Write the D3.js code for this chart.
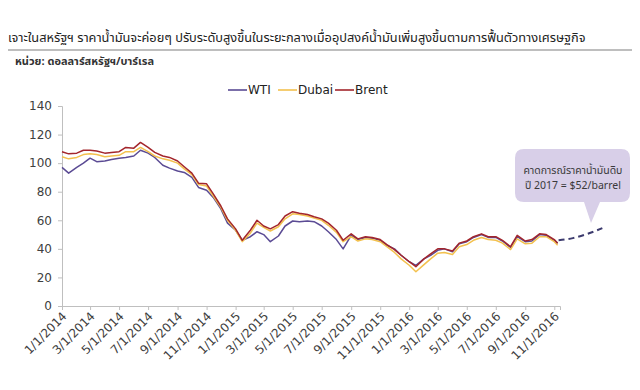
<!DOCTYPE html>
<html>
<head>
<meta charset="utf-8">
<script src="https://cdn.jsdelivr.net/npm/d3@7"></script>
<style>
  body { margin: 0; background: #fff; }
  svg text { font-family: Tahoma, "Noto Sans Thai", "Noto Sans", "DejaVu Sans", sans-serif; }
</style>
</head>
<body>
<script>
var titleText = "เจาะในสหรัฐฯ ราคาน้ำมันจะค่อยๆ ปรับระดับสูงขึ้นในระยะกลางเมื่ออุปสงค์น้ำมันเพิ่มสูงขึ้นตามการฟื้นตัวทางเศรษฐกิจ"
var unitText = "หน่วย: ดอลลาร์สหรัฐฯ/บาร์เรล"
var calloutLines = ["คาดการณ์ราคาน้ำมันดิบ", "ปี 2017 = $52/barrel"]

var seriesNames = ["WTI", "Dubai", "Brent"]
var yTicks = [0, 20, 40, 60, 80, 100, 120, 140]
var xTickLabels = ["1/1/2014", "3/1/2014", "5/1/2014", "7/1/2014", "9/1/2014", "11/1/2014",
  "1/1/2015", "3/1/2015", "5/1/2015", "7/1/2015", "9/1/2015", "11/1/2015",
  "1/1/2016", "3/1/2016", "5/1/2016", "7/1/2016", "9/1/2016", "11/1/2016"]

var dates = [
  "2014-01-01", "2014-01-15", "2014-02-01", "2014-02-15", "2014-03-01", "2014-03-15",
  "2014-04-01", "2014-04-15", "2014-05-01", "2014-05-15", "2014-06-01", "2014-06-15",
  "2014-07-01", "2014-07-15", "2014-08-01", "2014-08-15", "2014-09-01", "2014-09-15",
  "2014-10-01", "2014-10-15", "2014-11-01", "2014-11-15", "2014-12-01", "2014-12-15",
  "2015-01-01", "2015-01-15", "2015-02-01", "2015-02-15", "2015-03-01", "2015-03-15",
  "2015-04-01", "2015-04-15", "2015-05-01", "2015-05-15", "2015-06-01", "2015-06-15",
  "2015-07-01", "2015-07-15", "2015-08-01", "2015-08-15", "2015-09-01", "2015-09-15",
  "2015-10-01", "2015-10-15", "2015-11-01", "2015-11-15", "2015-12-01", "2015-12-15",
  "2016-01-01", "2016-01-15", "2016-02-01", "2016-02-15", "2016-03-01", "2016-03-15",
  "2016-04-01", "2016-04-15", "2016-05-01", "2016-05-15", "2016-06-01", "2016-06-15",
  "2016-07-01", "2016-07-15", "2016-08-01", "2016-08-15", "2016-09-01", "2016-09-15",
  "2016-10-01", "2016-10-15", "2016-11-01", "2016-11-08"]

var wti = [
  97, 93, 97, 100, 103.5, 101, 101.5, 102.5, 103.5, 104, 105, 109,
  107, 104, 98.5, 96.5, 94.5, 93.5, 90, 83, 81, 76, 68, 58,
  53, 46, 48.5, 52, 50, 45, 49, 56, 59.5, 59, 59.5, 59,
  56, 52, 46.5, 40, 49.5, 46.5, 48, 47.5, 46, 42.5, 40, 35.5,
  31, 28.5, 33, 35.5, 39, 40, 38, 43.5, 45, 48, 50, 48,
  48, 45.5, 41, 48.5, 45, 45.5, 50, 49.5, 46, 44]

var dubai = [
  104.5, 103, 104, 106, 106.5, 106, 104.5, 105, 105.5, 108, 108, 111,
  108, 105, 103, 102, 100, 96, 92, 85, 84, 77, 69, 60,
  53, 45, 51, 58, 55, 52.5, 55.5, 61, 64.5, 64, 63, 61.5,
  60, 56.5, 51.5, 45, 48.5, 45.5, 47, 46.5, 45, 41.5, 37.5, 33,
  28.5, 24, 29, 33, 37, 37.5, 36, 41.5, 43, 46, 48, 46.5,
  46, 44, 39.5, 47, 43.5, 44, 48.5, 48.5, 45, 42.5]

var brent = [
  108, 106.5, 107, 109, 109, 108.5, 107, 107.5, 108, 111, 110.5, 114.5,
  111, 107.5, 105, 104, 101.5, 97.5, 93, 86, 85.5, 78.5, 70, 61,
  54, 46, 53, 60, 56, 54, 57, 63, 66, 65, 64, 62.5,
  61, 58, 53, 46, 50.5, 47, 48.5, 48, 46.5, 43, 39.5, 35.5,
  31, 27.5, 33, 36.5, 40, 40, 38.5, 44, 45.5, 48.5, 50.5, 48.5,
  48.5, 46, 41.5, 49.5, 45.5, 46.5, 50.5, 50, 46.5, 44]

var forecastDates = ["2016-11-10", "2016-12-10", "2017-01-10", "2017-02-10"]
var forecastValues = [46, 47.5, 50.5, 54.5]

var colors = { WTI: "#5b4b94", Dubai: "#f3c14e", Brent: "#a3262c" }

var w = 640
var h = 390
var plotLeft = 62, plotRight = 560, plotTop = 106, plotBottom = 306

var svg = d3.select("body").append("svg")
  .attr("width", w)
  .attr("height", h)

var parseIso = d3.timeParse("%Y-%m-%d")
var parseTick = d3.timeParse("%m/%d/%Y")

var x = d3.scaleTime()
  .domain([parseIso("2014-01-01"), parseIso("2016-11-13")])
  .range([plotLeft, plotRight])

var y = d3.scaleLinear()
  .domain([0, 140])
  .range([plotBottom, plotTop])

// title, rule and unit
var title = svg.append("text")
  .attr("x", 8).attr("y", 42)
  .attr("font-size", 14).attr("fill", "#222")
  .text(titleText)
// shrink the title to the width it takes in the original
var tw = title.node().getComputedTextLength()
if (tw > 578) title.attr("font-size", 14 * 578 / tw)

svg.append("line")
  .attr("x1", 8).attr("x2", 632)
  .attr("y1", 50).attr("y2", 50)
  .attr("stroke", "#7f7f7f").attr("stroke-width", 1.2)

svg.append("text")
  .attr("x", 15).attr("y", 65)
  .attr("font-size", 11).attr("font-weight", "bold").attr("fill", "#333")
  .text(unitText)

// y axis
var yAxis = svg.append("g")
  .attr("transform", "translate(" + plotLeft + ",0)")
  .call(d3.axisLeft(y).tickValues(yTicks).tickSize(4).tickPadding(6))
yAxis.selectAll("path, line").attr("stroke", "#bfbfbf")
yAxis.selectAll("text").attr("font-size", 12).attr("fill", "#404040")
  .style("font-family", "Tahoma, 'DejaVu Sans', sans-serif")

// x axis
var xAxis = svg.append("g")
  .attr("transform", "translate(0," + plotBottom + ")")
  .call(d3.axisBottom(x)
    .tickValues(xTickLabels.map(parseTick))
    .tickFormat(function (d, i) { return xTickLabels[i] })
    .tickSize(4))
xAxis.select(".domain").attr("stroke", "#bfbfbf")
xAxis.selectAll("line").attr("stroke", "#bfbfbf")
xAxis.selectAll("text")
  .attr("font-size", 12).attr("fill", "#404040")
  .style("font-family", "Tahoma, 'DejaVu Sans', sans-serif")
  .attr("text-anchor", "end")
  .attr("dy", 0).attr("y", 0).attr("x", 0)
  .attr("transform", "translate(5,11) rotate(-45)")

// series
var seriesData = [
  { name: "WTI", values: wti },
  { name: "Dubai", values: dubai },
  { name: "Brent", values: brent }
]

var line = d3.line()
  .x(function (d) { return x(d.date) })
  .y(function (d) { return y(d.value) })

seriesData.forEach(function (s) {
  var pts = dates.map(function (d, i) { return { date: parseIso(d), value: s.values[i] } })
  svg.append("path")
    .datum(pts)
    .attr("fill", "none")
    .attr("stroke", colors[s.name])
    .attr("stroke-width", 1.5)
    .attr("stroke-linejoin", "round")
    .attr("d", line)
})

// forecast
var fPts = forecastDates.map(function (d, i) { return { date: parseIso(d), value: forecastValues[i] } })
svg.append("path")
  .datum(fPts)
  .attr("fill", "none")
  .attr("stroke", "#3c3b6e")
  .attr("stroke-width", 2)
  .attr("stroke-dasharray", "6,4")
  .attr("d", d3.line()
    .x(function (d) { return x(d.date) })
    .y(function (d) { return y(d.value) })
    .curve(d3.curveMonotoneX))

// callout
var cx0 = 515, cx1 = 630, cy0 = 149, cy1 = 202, rr = 9
var callPath = "M" + (cx0 + rr) + "," + cy0 +
  " H" + (cx1 - rr) + " Q" + cx1 + "," + cy0 + " " + cx1 + "," + (cy0 + rr) +
  " V" + (cy1 - rr) + " Q" + cx1 + "," + cy1 + " " + (cx1 - rr) + "," + cy1 +
  " H600 L591,223 L584," + cy1 +
  " H" + (cx0 + rr) + " Q" + cx0 + "," + cy1 + " " + cx0 + "," + (cy1 - rr) +
  " V" + (cy0 + rr) + " Q" + cx0 + "," + cy0 + " " + (cx0 + rr) + "," + cy0 + " Z"
svg.append("path")
  .attr("d", callPath)
  .attr("fill", "#d8cfe8")

svg.selectAll("text.callout")
  .data(calloutLines)
  .enter()
  .append("text")
  .attr("class", "callout")
  .attr("x", 573)
  .attr("y", function (d, i) { return 174 + i * 15 })
  .attr("text-anchor", "middle")
  .attr("font-size", 10.5)
  .attr("fill", "#3a3a3a")
  .text(function (d) { return d })

// legend
var legendX = [228, 278, 335]
seriesNames.forEach(function (n, i) {
  var g = svg.append("g").attr("transform", "translate(" + legendX[i] + ",90)")
  g.append("line")
    .attr("x1", 0).attr("x2", 19)
    .attr("stroke", colors[n]).attr("stroke-width", 1.6)
  g.append("text")
    .attr("x", 20).attr("y", 4)
    .attr("font-size", 12).attr("fill", "#222")
    .style("font-family", "Tahoma, 'DejaVu Sans', sans-serif")
    .text(n)
})
</script>
</body>
</html>
